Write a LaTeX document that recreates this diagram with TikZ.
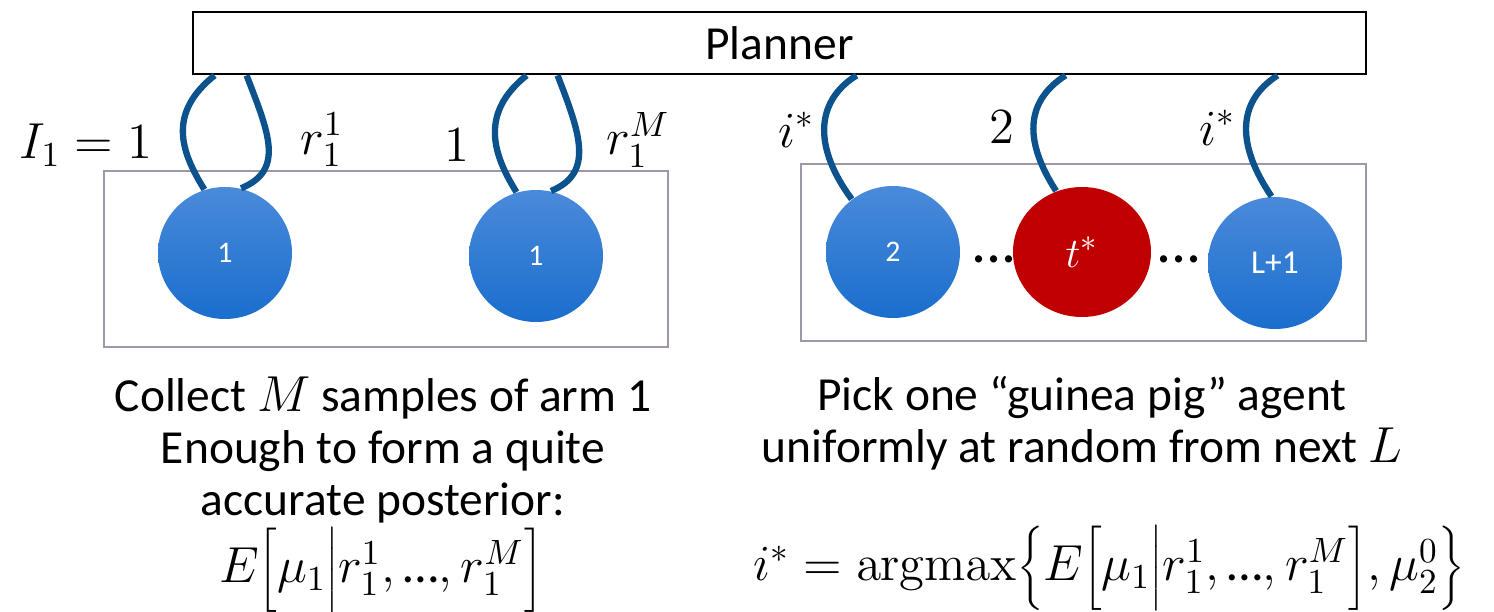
\documentclass[tikz,border=0pt]{standalone}
\usepackage[no-math]{fontspec}
\setmainfont{Carlito}
\usepackage{tikz}
\usetikzlibrary{shapes.geometric}
\definecolor{agenttop}{RGB}{74,138,218}
\definecolor{agentbot}{RGB}{26,110,205}
\definecolor{pigred}{RGB}{192,0,0}
\definecolor{wireblue}{RGB}{12,82,140}
\definecolor{groupline}{RGB}{160,150,170}
\tikzstyle{planner} = [
    rectangle,
    minimum width=11.73cm,
    minimum height=0.62cm,
    line width=0.8pt,
    draw=black
]
\tikzstyle{group} = [
    rectangle,
    line width=0.6pt,
    draw=groupline
]
\tikzstyle{agent} = [
    ellipse,
    minimum width=1.34cm,
    minimum height=1.32cm,
    inner sep=0pt,
    top color=agenttop,
    bottom color=agentbot,
    text=white,
    font=\fontsize{8.5}{10}\selectfont
]
\tikzstyle{pig} = [
    ellipse,
    minimum width=1.38cm,
    minimum height=1.30cm,
    inner sep=0pt,
    fill=pigred,
    text=white,
    font=\fontsize{13}{15}\selectfont
]
\tikzstyle{wire} = [line width=1.8pt, draw=wireblue]
\tikzstyle{lbl} = [font=\fontsize{14.5}{17}\selectfont]
\tikzstyle{caption} = [align=center, font=\fontsize{13.5}{14.8}\selectfont]
\tikzstyle{gap} = [font=\fontsize{17}{19}\selectfont, inner sep=0pt]

\begin{document}
\begin{tikzpicture}

\useasboundingbox (0,0) rectangle (14.94,-6.12);

\node (planner) [planner, font=\fontsize{13.5}{15}\selectfont] at (7.795,-0.43) {Planner};

% the two groups of agents
\node (armgroup) [group, minimum width=5.64cm, minimum height=1.76cm] at (3.86,-2.59) {};
\node (nextgroup) [group, minimum width=5.65cm, minimum height=1.77cm] at (10.835,-2.525) {};

\node (first) [agent] at (2.25,-2.53) {1};
\node (mth) [agent] at (5.36,-2.56) {1};

\node (second) [agent] at (8.93,-2.52) {2};
\node (guinea) [pig] at (10.82,-2.52) {$t^*$};
\node (last) [agent, font=\fontsize{9.5}{11}\selectfont] at (12.75,-2.63) {L+1};

\node (dotsa) [gap] at (9.94,-2.59) {...};
\node (dotsb) [gap] at (11.79,-2.59) {...};

\draw [wire] ([xshift=0.23cm]planner.south west) .. controls +(-0.46,-0.37) and +(-0.25,0.40) .. (first.108);
\draw [wire] ([xshift=0.55cm]planner.south west) .. controls +(0.22,-0.57) and +(0.44,0.18) .. (first.76);
\draw [wire] ([xshift=3.35cm]planner.south west) .. controls +(-0.46,-0.37) and +(-0.25,0.40) .. (mth.107);
\draw [wire] ([xshift=3.66cm]planner.south west) .. controls +(0.22,-0.57) and +(0.44,0.18) .. (mth.77);

\draw [wire] ([xshift=6.65cm]planner.south west) .. controls +(-0.43,-0.27) and +(-0.37,0.50) .. (second.128);
\draw [wire] ([xshift=8.74cm]planner.south west) .. controls +(-0.42,-0.27) and +(-0.31,0.48) .. (guinea.113);
\draw [wire] ([xshift=10.86cm]planner.south west) .. controls +(-0.42,-0.27) and +(-0.34,0.50) .. (last.93);

% labels on the wires
\node (armlbl) [lbl] at (0.86,-1.45) {$I_1 = 1$};
\node (rfirst) [lbl] at (3.22,-1.40) {$r_1^1$};
\node (onelbl) [lbl] at (4.57,-1.45) {$1$};
\node (rlast) [lbl] at (6.38,-1.40) {$r_1^M$};

\node (istara) [lbl] at (7.97,-1.30) {$i^*$};
\node (twolbl) [lbl] at (10.02,-1.27) {$2$};
\node (istarb) [lbl] at (12.18,-1.28) {$i^*$};

% captions
\node (collect) [caption] at (3.83,-4.50)
{Collect $M$ samples of arm 1\\Enough to form a quite\\accurate posterior:};
\node (posterior) [lbl] at (3.81,-5.70)
{$E\biggl[\mu_1\bigg|r_1^1,\mbox{…},r_1^M\biggr]$};

\node (pick) [caption] at (10.82,-4.23)
{Pick one “guinea pig” agent\\uniformly at random from next $L$};
\node (choice) [lbl] at (11.09,-5.68)
{$i^* = \mathrm{argmax}\biggl\{E\biggl[\mu_1\bigg|r_1^1,\mbox{…},r_1^M\biggr],\mu_2^0\biggr\}$};

\end{tikzpicture}
\end{document}
